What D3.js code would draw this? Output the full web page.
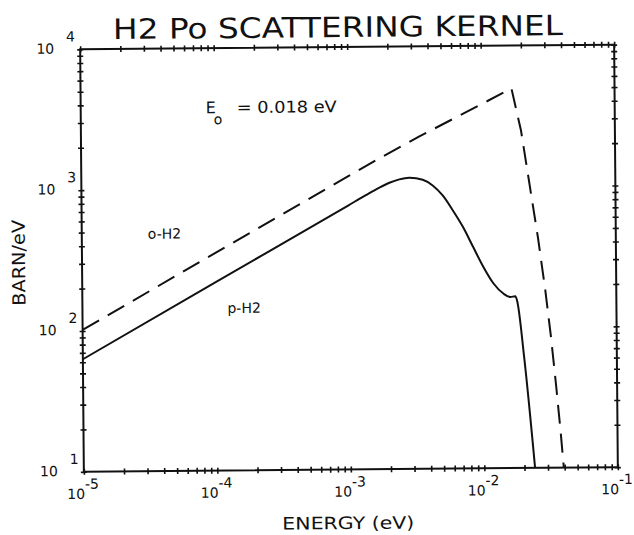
<!DOCTYPE html>
<html>
<head>
<meta charset="utf-8">
<script src="https://cdn.jsdelivr.net/npm/d3@7"></script>
<style>
  body { margin: 0; background: #fff; }
  text { font-family: "DejaVu Sans", sans-serif; fill: #111; }
</style>
</head>
<body>
<script>
// p-H2 (solid)
const pEnergy = [1e-5, 1e-4, 1e-3, 1.35e-3, 1.71e-3, 2.03e-3, 2.41e-3, 2.86e-3, 3.61e-3, 4.28e-3, 5.08e-3,
    6.04e-3, 7.18e-3, 8.53e-3, 1.014e-2, 1.205e-2, 1.432e-2, 1.607e-2, 1.75e-2, 1.803e-2, 2.02e-2, 2.40e-2];
const pValue = [63, 218, 752, 885, 1000, 1080, 1140, 1170, 1130, 1028, 871,
    681, 518, 373, 269, 205, 173, 164, 166, 155, 61.5, 10];

// o-H2 (dashed)
const oEnergy = [1e-5, 2.29e-5, 1e-4, 1e-3, 1.71e-3, 3.4e-3, 0.0169, 0.0198, 0.0227, 0.0261,
    0.0294, 0.0321, 0.0349, 0.0374, 0.0394];
const oValue = [102, 159, 352, 1211, 1611, 2286, 4955, 2489, 1047, 432,
    182, 87, 38.5, 18.5, 10];

const xDecades = [1e-5, 1e-4, 1e-3, 1e-2, 1e-1];
const xExps = ["-5", "-4", "-3", "-2", "-1"];
const yDecades = [10, 100, 1000, 10000];
const yExps = ["1", "2", "3", "4"];

var pLeft = 82, pRight = 616, pTop = 47, pBottom = 469.5;

var svg = d3.select("body").append("svg")
    .attr("width", 634)
    .attr("height", 535);

// the scan is slightly rotated
var g = svg.append("g").attr("transform", "rotate(-0.5 349 258)");

var x = d3.scaleLog().domain([1e-5, 1e-1]).range([pLeft, pRight]);
var y = d3.scaleLog().domain([10, 1e4]).range([pBottom, pTop]);

// frame
g.append("rect")
    .attr("x", pLeft).attr("y", pTop)
    .attr("width", pRight - pLeft).attr("height", pBottom - pTop)
    .attr("fill", "none").attr("stroke", "#111").attr("stroke-width", 2);

// cross ticks on all four sides
function ticks(axis, tr, attr, v) {
    var a = g.append("g").attr("transform", tr)
        .call(axis.tickSize(3).tickSizeOuter(0).tickFormat(""));
    a.select(".domain").remove();
    a.selectAll(".tick line").attr(attr, v).attr("stroke", "#111").attr("stroke-width", 1.6);
}
ticks(d3.axisBottom(x), "translate(0," + pBottom + ")", "y1", -3);
ticks(d3.axisTop(x), "translate(0," + pTop + ")", "y1", 3);
ticks(d3.axisLeft(y), "translate(" + pLeft + ",0)", "x1", 3);
ticks(d3.axisRight(y), "translate(" + pRight + ",0)", "x1", -3);

// x tick labels
xDecades.forEach(function (d, i) {
    g.append("text").attr("x", x(d) + 1).attr("y", pBottom + 27)
        .attr("text-anchor", "end").attr("font-size", 14).text("10");
    g.append("text").attr("x", x(d) + 1).attr("y", pBottom + 17)
        .attr("font-size", 14).text(xExps[i]);
});

// y tick labels
yDecades.forEach(function (d, i) {
    g.append("text").attr("x", 56).attr("y", y(d) + 4)
        .attr("text-anchor", "end").attr("font-size", 14).text("10");
    g.append("text").attr("x", 68).attr("y", y(d) - 8)
        .attr("font-size", 14).text(yExps[i]);
});

// curves
var line = d3.line()
    .x(d => x(d[0]))
    .y(d => y(d[1]));

g.append("path")
    .datum(pEnergy.map((e, i) => [e, pValue[i]]))
    .attr("d", line.curve(d3.curveMonotoneX))
    .attr("fill", "none").attr("stroke", "#111").attr("stroke-width", 2);

g.append("path")
    .datum(oEnergy.map((e, i) => [e, oValue[i]]))
    .attr("d", line.curve(d3.curveLinear))
    .attr("fill", "none").attr("stroke", "#111").attr("stroke-width", 2)
    .attr("stroke-dasharray", "19,10");

// texts
g.append("text").attr("x", 115).attr("y", 37)
    .attr("font-size", 28).attr("textLength", 450).attr("lengthAdjust", "spacingAndGlyphs")
    .text("H2  Po SCATTERING KERNEL");

g.append("text").attr("x", 280).attr("y", 529)
    .attr("font-size", 17).attr("textLength", 132).attr("lengthAdjust", "spacingAndGlyphs")
    .text("ENERGY (eV)");

g.append("text").attr("transform", "translate(25,303) rotate(-90)")
    .attr("font-size", 18).attr("textLength", 86).attr("lengthAdjust", "spacingAndGlyphs")
    .text("BARN/eV");

g.append("text").attr("x", 207).attr("y", 112).attr("font-size", 16).text("E");
g.append("text").attr("x", 215).attr("y", 123).attr("font-size", 14).text("o");
g.append("text").attr("x", 238).attr("y", 112)
    .attr("font-size", 16).attr("textLength", 100).attr("lengthAdjust", "spacingAndGlyphs")
    .text("= 0.018 eV");

g.append("text").attr("x", 148).attr("y", 237).attr("font-size", 14).text("o-H2");
g.append("text").attr("x", 227).attr("y", 312).attr("font-size", 14).text("p-H2");
</script>
</body>
</html>
